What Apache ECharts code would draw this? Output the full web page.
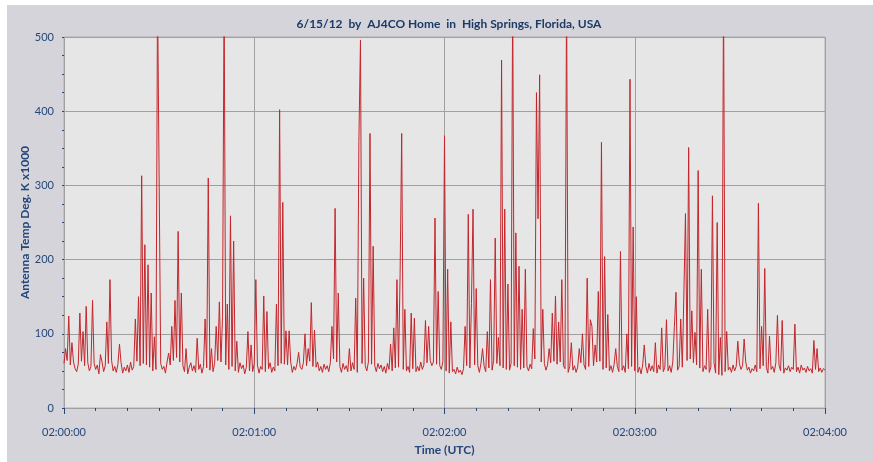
<!DOCTYPE html>
<html>
<head>
<meta charset="utf-8">
<script src="https://cdn.jsdelivr.net/npm/echarts@6/dist/echarts.min.js"></script>
<style>
html,body{margin:0;padding:0;background:#ffffff;}
#chart{position:absolute;left:7px;top:5px;width:866px;height:457px;}
</style>
</head>
<body>
<div id="chart"></div>
<script>
// sampling step (seconds) of the series
const sampleStep = 0.5;
// baseline values, one every 0.5 s from 02:00:00
const baseline = [
60,50,64,52,58,47,62,53,49,59,51,63,48,57,54,61,50,56,47,60,
52,58,46,55,62,49,57,51,60,53,64,50,56,48,59,52,61,47,55,50,
58,48,62,51,56,49,63,52,57,66,60,70,58,64,55,61,50,59,52,57,
49,60,52,56,47,62,50,58,53,64,57,68,55,62,51,57,49,60,46,55,
61,50,57,48,63,52,59,47,56,62,54,66,51,58,49,60,53,64,57,62,
55,66,58,61,52,64,56,60,50,57,48,61,53,58,46,55,62,50,57,49,
60,51,58,47,56,52,63,49,57,53,61,48,55,50,62,57,66,60,54,59,
50,58,53,62,48,56,51,60,47,55,52,61,49,57,53,63,50,56,47,55,
62,50,56,48,59,52,57,49,61,54,66,58,62,51,56,48,60,52,57,49,
56,50,61,52,58,48,63,55,60,52,57,50,62,54,59,51,57,49,60,53,
58,49,56,47,60,52,57,50,63,54,61,55,64,57,52,59,50,56,48,61,
53,60,49,56,50,62,52,58,48,61,55,64,57,62,54,59,50,57,52,63,
56,50,58,47,54,49,52,46,55,48,51,45,53,50,57,62,54,60,52,58,
50,57,48,60,52,56,49,62,54,59,51,64,55,60,50,57,62,54,59,52,
58,51,60,53,57,62,55,64,52,58,54,63,56,50,59,53,61,66,58,64,
57,62,53,60,51,58,49,61,55,63,52,59,54,62,50,57,53,60,48,56,
60,51,57,48,55,50,61,53,58,52,64,56,60,51,57,49,62,55,63,58,
52,60,54,61,50,57,48,59,52,56,49,62,51,57,48,55,53,61,56,63,
50,57,48,55,46,58,51,56,47,60,50,57,49,54,47,58,52,56,49,55,
61,50,57,48,62,53,59,51,56,63,55,67,58,64,60,66,54,61,52,58,
62,54,59,49,57,52,60,48,55,50,61,47,56,45,53,44,52,49,57,51,
55,48,58,50,56,47,60,52,57,49,62,51,55,47,53,50,58,49,61,53,
49,57,51,55,47,59,52,56,48,61,53,58,50,56,47,54,51,57,49,55,
52,57,49,55,47,58,51,54,48,56,50,53,47,59,52,55,49,54,48,53,
51
];
// spikes: [sample index, value]
const spikes = [
[1,80],[3,124],[5,88],[10,128],[12,103],[14,137],[18,145],[23,72],[27,116],[29,173],[35,86],[45,120],
[47,150],[49,313],[51,220],[53,193],[55,155],[57,96],
[59,560],[60,560],[66,74],
[68,110],[70,145],[72,238],[74,155],[77,80],[84,94],[89,120],[91,310],[93,80],
[96,110],[98,143],[100,123],[101,560],[103,140],[105,259],[107,225],[109,90],
[116,103],[118,85],[121,173],[126,151],[128,130],
[134,140],[136,402],[138,277],[140,104],[142,104],[148,75],[152,100],[154,80],[156,142],[158,105],
[169,110],[171,269],[173,155],[180,80],[184,148],[186,359],[187,496],[189,175],
[193,370],[195,218],[206,86],[208,108],[210,173],[212,180],[213,370],[215,133],
[219,128],[221,121],[228,118],[230,110],[234,256],[236,157],[240,367],[242,187],[244,116],
[253,110],[255,261],[257,141],[258,268],[260,161],
[264,80],[267,103],[269,173],[272,229],[274,95],[276,469],[278,268],[280,167],
[283,560],[285,236],[287,191],[289,133],[291,187],
[296,107],[298,425],[299,255],[300,449],[302,133],
[306,80],[308,128],[310,151],[312,116],[314,173],[317,560],[320,88],
[325,80],[327,100],[330,175],[332,119],[333,110],[335,85],[337,157],[339,358],[341,204],[343,126],
[348,80],[351,211],[355,100],[357,443],[359,244],[361,150],
[366,85],[373,88],[377,108],[380,119],
[385,110],[386,156],[389,120],[391,155],[392,262],[394,351],[396,131],[398,102],
[400,320],[402,187],[406,133],[409,286],[412,250],[414,95],[416,560],[418,103],
[425,90],[429,93],[438,276],[440,110],[442,188],[445,97],[450,125],[453,118],[461,113],[473,91],[475,80]
];
// tick labels for the time axis (seconds after 02:00:00)
const timeTicks = {0:'02:00:00',60:'02:01:00',120:'02:02:00',180:'02:03:00',240:'02:04:00'};

const values = baseline.slice();
spikes.forEach(([i, v]) => { values[i] = v; });
const data = values.map((v, i) => [i * sampleStep, v]);

const blue = '#24477a';
const chart = echarts.init(document.getElementById('chart'));
chart.setOption({
  animation: false,
  backgroundColor: '#d4d4da',
  title: {
    text: '6/15/12  by  AJ4CO Home  in  High Springs, Florida, USA',
    left: 437, top: 8, textAlign: 'center',
    textStyle: {fontFamily: 'Lato', fontWeight: 'bold', fontSize: 12, color: '#1c3a66'}
  },
  grid: {left: 57, top: 32, right: 48, bottom: 54, containLabel: false, outerBoundsMode: 'none',
         show: true, backgroundColor: '#e6e6e6', borderColor: '#b0b0b0', borderWidth: 1},
  xAxis: {
    type: 'value', min: 0, max: 240, interval: 60, offset: 3,
    name: 'Time (UTC)', nameLocation: 'middle', nameGap: 33, nameMoveOverlap: false,
    nameTextStyle: {fontFamily: 'Lato', fontWeight: 'bold', fontSize: 12, color: blue},
    axisLine: {show: false},
    axisTick: {show: true, length: 6, lineStyle: {color: blue}},
    minorTick: {show: true, splitNumber: 6, length: 3, lineStyle: {color: blue}},
    axisLabel: {margin: 16, formatter: v => timeTicks[v] || '', fontFamily: 'Lato', fontSize: 11, color: blue},
    splitLine: {show: true, lineStyle: {color: '#a0a0a0', width: 1}}
  },
  yAxis: {
    type: 'value', min: 0, max: 500, interval: 100, offset: 3,
    name: 'Antenna Temp Deg. K x1000', nameLocation: 'middle', nameGap: 30, nameMoveOverlap: false,
    nameTextStyle: {fontFamily: 'Lato', fontWeight: 'bold', fontSize: 12, color: blue},
    axisLine: {show: false},
    axisTick: {show: true, length: 2, lineStyle: {color: blue}},
    minorTick: {show: true, splitNumber: 4, length: 2, lineStyle: {color: blue}},
    axisLabel: {margin: 7, fontFamily: 'Lato', fontSize: 11, color: blue},
    splitLine: {show: true, lineStyle: {color: '#a0a0a0', width: 1}}
  },
  series: [{
    type: 'line', data: data, showSymbol: false, symbol: 'none', sampling: 'none', clip: true,
    lineStyle: {color: '#c3262c', width: 1}
  }]
});
</script>
</body>
</html>
